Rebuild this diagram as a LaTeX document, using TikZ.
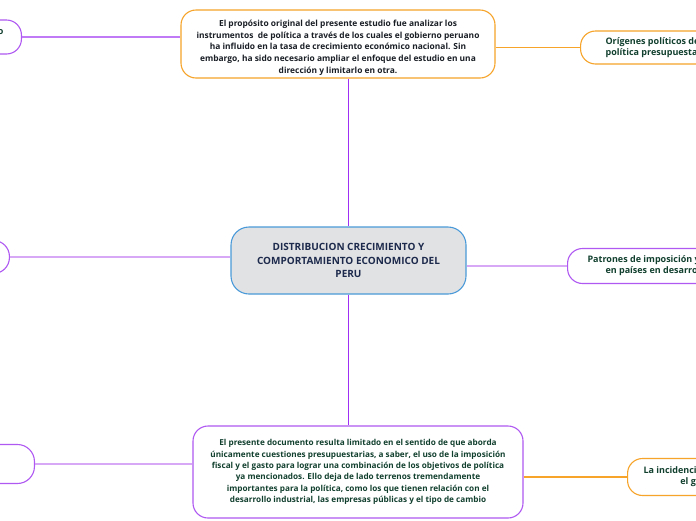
\documentclass[tikz,border=0pt]{standalone}
\usepackage{fontspec}
\setmainfont{Open Sans}
\definecolor{orangeline}{HTML}{F6A42A}
\definecolor{purpleline}{HTML}{B059F2}
\definecolor{purplestrong}{HTML}{A02FF5}
\definecolor{lavender}{HTML}{D6A8F6}
\definecolor{midlav}{HTML}{C07AF5}
\definecolor{blueline}{HTML}{4A9AD9}
\definecolor{centerfill}{HTML}{E1E2E4}
\definecolor{greentext}{HTML}{12402F}
\definecolor{navytext}{HTML}{1D2A4C}
\definecolor{darktext}{HTML}{1A1F26}
\tikzset{
  x=1pt, y=-1pt,
  boxbase/.style={draw, line width=1.1pt, rounded corners=15pt, align=center, font=\bfseries\fontsize{8.4}{11.8}\selectfont, inner ysep=0pt},
  orangebox/.style={boxbase, draw=orangeline, fill=white},
  purplebox/.style={boxbase, draw=purpleline, fill=white},
  centralbox/.style={boxbase, draw=blueline, fill=centerfill, rounded corners=18pt, font=\bfseries\fontsize{10}{13.3}\selectfont, text=navytext},
  sidefont/.style={font=\bfseries\fontsize{9}{11}\selectfont},
  trunk/.style={draw=purplestrong, line width=1.8pt},
  branchorange/.style={draw=orangeline, line width=1.2pt},
  branchlav/.style={draw=lavender, line width=1.1pt},
  branchmid/.style={draw=midlav, line width=1.1pt}
}
\begin{document}
\begin{tikzpicture}
\useasboundingbox (0,0) rectangle (696,520);
\clip (0,0) rectangle (696,520);
\fill[white] (0,0) rectangle (696,520);

% main boxes
\node[orangebox, text=darktext, minimum width=314pt, minimum height=68pt] (top) at (338,44)
  {\rule{0pt}{14pt}El propósito original del presente estudio fue analizar los\\
   instrumentos\ \ de política a través de los cuales el gobierno peruano\\
   ha influido en la tasa de crecimiento económico nacional. Sin\\
   embargo, ha sido necesario ampliar el enfoque del estudio en una\\
   dirección y limitarlo en otra.};

\node[centralbox, minimum width=235pt, minimum height=67pt] (center) at (348.5,260.5)
  {DISTRIBUCION CRECIMIENTO Y\\
   COMPORTAMIENTO ECONOMICO DEL\\
   PERU};

\node[purplebox, text=greentext, minimum width=330pt, minimum height=92pt, font=\bfseries\fontsize{8.2}{11.4}\selectfont] (bottom) at (358,472)
  {El presente documento resulta limitado en el sentido de que aborda\\
   únicamente cuestiones presupuestarias, a saber, el uso de la imposición\\
   fiscal y el gasto para lograr una combinación de los objetivos de política\\
   ya mencionados. Ello deja de lado terrenos tremendamente\\
   importantes para la política, como los que tienen relación con el\\
   desarrollo industrial, las empresas públicas y el tipo de cambio};

% side nodes
\node[orangebox, text=greentext, anchor=west, inner xsep=25pt, minimum height=33pt, sidefont] (tr) at (580,47.5)
  {Orígenes políticos de la\\política presupuestaria};
\node[purplebox, text=greentext, anchor=west, inner xsep=20pt, minimum height=35pt, sidefont] (mr) at (567,266)
  {Patrones de imposición y gasto\\en países en desarrollo};
\node[orangebox, text=greentext, anchor=west, inner xsep=16pt, minimum height=37pt, sidefont] (br) at (627,477)
  {La incidencia de los impuestos y\\el gasto público};
\node[purplebox, text=greentext, anchor=east, inner xsep=18pt, minimum height=34pt, sidefont] (tl) at (22,37)
  {El papel del gobierno en el desarrollo\\económico};
\node[purplebox, anchor=east, minimum width=80pt, minimum height=33pt, rounded corners=16pt] (ml) at (10,257) {};
\node[purplebox, anchor=east, minimum width=100pt, minimum height=39pt, rounded corners=17pt] (bl) at (35,464) {};

% connectors
\draw[trunk] (center.north |- top.south) -- (center.north);
\draw[trunk] (center.south) -- (center.south |- bottom.north);
\draw[branchmid] (tl.east) -- (tl.east -| top.west);
\draw[branchorange] (tr.west -| top.east) -- (tr.west);
\draw[branchlav] (ml.east) -- (ml.east -| center.west);
\draw[branchlav] (mr.west -| center.east) -- (mr.west);
\draw[branchlav] (bl.east) -- (bl.east -| bottom.west);
\draw[branchorange] (br.west -| bottom.east) -- (br.west);
\end{tikzpicture}
\end{document}
